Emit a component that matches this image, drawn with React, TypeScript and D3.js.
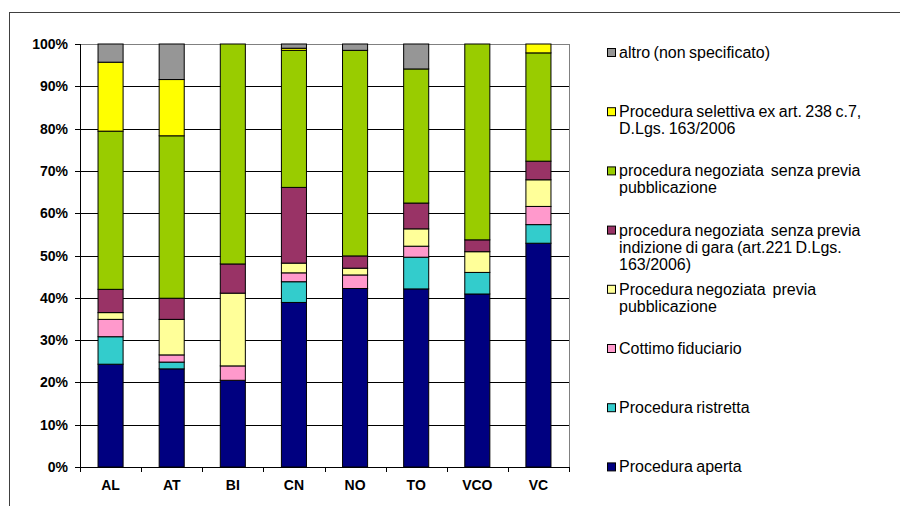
import React from "react";
import * as d3 from "d3";

const categories = ["AL", "AT", "BI", "CN", "NO", "TO", "VCO", "VC"];

const seriesNames = [
  "Procedura aperta",
  "Procedura ristretta",
  "Cottimo fiduciario",
  "Procedura negoziata  previa pubblicazione",
  "procedura negoziata  senza previa indizione di gara (art.221 D.Lgs. 163/2006)",
  "procedura negoziata  senza previa pubblicazione",
  "Procedura selettiva ex art. 238 c.7, D.Lgs. 163/2006",
  "altro (non specificato)",
];

const legendLines = [
  ["Procedura aperta"],
  ["Procedura ristretta"],
  ["Cottimo fiduciario"],
  ["Procedura negoziata  previa", "pubblicazione"],
  ["procedura negoziata  senza previa", "indizione di gara (art.221 D.Lgs.", "163/2006)"],
  ["procedura negoziata  senza previa", "pubblicazione"],
  ["Procedura selettiva ex art. 238 c.7,", "D.Lgs. 163/2006"],
  ["altro (non specificato)"],
];

const seriesColors = ["#000080", "#33CCCC", "#FF99CC", "#FFFF99", "#993366", "#99CC00", "#FFFF00", "#969696"];

// values per category, in series order (percent)
const aperta = [24.3, 23.2, 20.5, 38.9, 42.2, 42.1, 40.9, 52.9];
const ristretta = [6.5, 1.6, 0, 4.9, 0, 7.5, 5.1, 4.4];
const cottimo = [4.1, 1.7, 3.4, 2.1, 3.2, 2.6, 0, 4.3];
const negPrevia = [1.6, 8.4, 17.2, 2.3, 1.6, 4.1, 4.9, 6.3];
const negIndizione = [5.5, 5.0, 6.9, 17.9, 2.9, 6.1, 2.8, 4.4];
const negSenzaPubbl = [37.4, 38.4, 52.0, 32.4, 48.6, 31.7, 46.3, 25.6];
const selettiva = [16.3, 13.3, 0, 0.5, 0, 0, 0, 2.1];
const altro = [4.3, 8.4, 0, 1.0, 1.5, 5.9, 0, 0];

const yTicks = [0, 10, 20, 30, 40, 50, 60, 70, 80, 90, 100];

const seriesValues = [aperta, ristretta, cottimo, negPrevia, negIndizione, negSenzaPubbl, selettiva, altro];

export default function App() {
  const W = 900, H = 506;
  const left = 80, right = 569, top = 44, bottom = 467;

  const x = d3.scaleBand<string>().domain(categories).range([left, right]).padding(0);
  const barW = x.bandwidth() * 0.41;
  const y = d3.scaleLinear().domain([0, 100]).range([bottom, top]);

  const table = categories.map((c, i) => {
    const row: any = { cat: c };
    seriesNames.forEach((s, j) => (row[s] = seriesValues[j][i]));
    return row;
  });
  const stack = d3.stack<any>().keys(seriesNames);
  const stacked = stack(table);

  const font = "'Liberation Sans', Arial, sans-serif";
  const legendX = 607;
  const legendTop = 52.5;
  const legendStep = 59.2;
  const lineH = 17;

  return (
    <svg width={W} height={H} style={{ position: "absolute", left: 0, top: 0, background: "#fff" }}>
      <rect x={9.5} y={12.5} width={1000} height={600} fill="#fff" stroke="#404040" strokeWidth={1} />
      {/* gridlines */}
      {yTicks.filter((t) => t > 0 && t < 100).map((t) => (
        <line key={t} x1={left} x2={right} y1={Math.round(y(t)) + 0.5} y2={Math.round(y(t)) + 0.5} stroke="#000" strokeWidth={1} />
      ))}
      {/* plot border top and right (grey) */}
      <line x1={left} x2={right} y1={top + 0.5} y2={top + 0.5} stroke="#808080" />
      <line x1={right + 0.5} x2={right + 0.5} y1={top} y2={bottom} stroke="#808080" />
      {/* bars */}
      {stacked.map((layer, j) =>
        layer.map((d, i) => {
          const h = y(d[0]) - y(d[1]);
          if (h <= 0.01) return null;
          return (
            <rect
              key={j + "-" + i}
              x={(x(categories[i]) as number) + x.bandwidth() / 2 - barW / 2}
              y={y(d[1])}
              width={barW}
              height={h}
              fill={seriesColors[j]}
              stroke="#000"
              strokeWidth={1}
            />
          );
        })
      )}
      {/* axes */}
      <line x1={left + 0.5} x2={left + 0.5} y1={top} y2={bottom} stroke="#000" />
      <line x1={left} x2={right + 1} y1={bottom + 0.5} y2={bottom + 0.5} stroke="#000" />
      {yTicks.map((t) => (
        <g key={"yt" + t}>
          <line x1={left - 5} x2={left} y1={Math.round(y(t)) + 0.5} y2={Math.round(y(t)) + 0.5} stroke="#000" />
          <text x={68} y={y(t) + 5} textAnchor="end" fontFamily={font} fontWeight="bold" fontSize={14} fill="#000">
            {t + "%"}
          </text>
        </g>
      ))}
      {categories.map((c, i) => (
        <line key={"xt" + i} x1={Math.round(x(c) as number) + 0.5} x2={Math.round(x(c) as number) + 0.5} y1={bottom} y2={bottom + 5} stroke="#000" />
      ))}
      <line x1={right + 0.5} x2={right + 0.5} y1={bottom} y2={bottom + 5} stroke="#000" />
      {categories.map((c) => (
        <text key={"xl" + c} x={(x(c) as number) + x.bandwidth() / 2} y={490} textAnchor="middle" fontFamily={font} fontWeight="bold" fontSize={14} fill="#000">
          {c}
        </text>
      ))}
      {/* legend (reverse order) */}
      {seriesNames.map((s, j) => {
        const k = seriesNames.length - 1 - j;
        const cy = legendTop + k * legendStep;
        return (
          <g key={"lg" + j}>
            <rect x={legendX + 0.5} y={cy - 4} width={8} height={8} fill={seriesColors[j]} stroke="#000" strokeWidth={1} />
            {legendLines[j].map((ln, li) => (
              <text key={li} x={619} y={cy + 5.5 + li * lineH} fontFamily={font} fontSize={16} fill="#000" wordSpacing={-1}>
                {ln.replace(/  /g, " \u00A0")}
              </text>
            ))}
          </g>
        );
      })}
    </svg>
  );
}
